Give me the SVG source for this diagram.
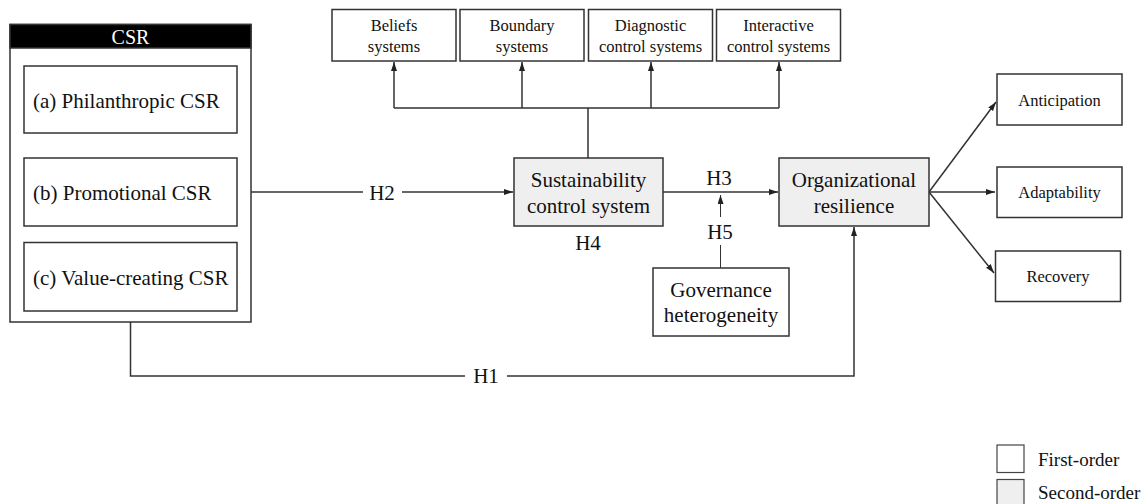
<svg xmlns="http://www.w3.org/2000/svg" width="1143" height="504" viewBox="0 0 1143 504">
<style>
.box{fill:#fff;stroke:#333;stroke-width:1.5}
.g{fill:#efefef;stroke:#333;stroke-width:1.5}
.t{font-family:"Liberation Serif","Times New Roman",serif;fill:#111}
.c{text-anchor:middle}
.l{fill:none;stroke:#333;stroke-width:1.5}
.a{fill:none;stroke:#333;stroke-width:1.5;marker-end:url(#ah)}
.f21{font-size:21px}
.f16{font-size:16.5px}
.f19{font-size:19px}
</style>
<defs>
<marker id="ah" markerUnits="userSpaceOnUse" markerWidth="10" markerHeight="8" refX="9" refY="3" orient="auto">
<path d="M0,0 L9,3 L0,6 z" fill="#222"/>
</marker>
</defs>
<rect width="1143" height="504" fill="#fff"/>

<g id="connectors">
<!-- H2 -->
<path class="l" d="M251,192 H363"/>
<path class="a" d="M402,192 H513"/>
<text class="t c f21" x="382" y="199.5">H2</text>
<!-- tree to top boxes -->
<path class="l" d="M588,158 V108 M394,108 H779"/>
<path class="a" d="M394,108 V62"/>
<path class="a" d="M522,108 V62"/>
<path class="a" d="M651,108 V62"/>
<path class="a" d="M779,108 V62"/>
<!-- H3 -->
<path class="a" d="M663,192 H778"/>
<text class="t c f21" x="719" y="185">H3</text>
<!-- H5 -->
<path class="a" d="M720.5,217 V195" style="stroke-width:1"/>
<path class="l" d="M720.5,245 V268" style="stroke-width:1"/>
<text class="t c f21" x="720" y="239">H5</text>
<!-- H4 -->
<text class="t c f21" x="588" y="250">H4</text>
<!-- H1 -->
<path class="l" d="M130.5,322 V376 H465"/>
<path class="a" d="M507,376 H854 V227"/>
<text class="t c f21" x="486" y="383">H1</text>
<!-- resilience dimensions -->
<path class="a" d="M929,192 L996,102"/>
<path class="a" d="M929,192 H995"/>
<path class="a" d="M929,192 L994,273"/>
</g>

<g id="csr">
<rect class="box" x="10" y="24.5" width="241" height="297.5"/>
<rect x="10" y="24.5" width="241" height="23.5" fill="#000" stroke="#333" stroke-width="1.5"/>
<text class="t c" x="130.5" y="43.5" style="fill:#fff;font-size:20px">CSR</text>
</g>
<g id="philanthropic">
<rect class="box" x="24" y="66" width="213" height="67"/>
<text class="t f21" x="33" y="107.5">(a) Philanthropic CSR</text>
</g>
<g id="promotional">
<rect class="box" x="24" y="158" width="213" height="68"/>
<text class="t f21" x="33" y="199.5">(b) Promotional CSR</text>
</g>
<g id="valuecreating">
<rect class="box" x="24" y="242.5" width="213" height="68.5"/>
<text class="t f21" x="33" y="284.5">(c) Value-creating CSR</text>
</g>

<g id="beliefs">
<rect class="box" x="332" y="9.5" width="124" height="51.5"/>
<text class="t c f16" x="394" y="31">Beliefs</text>
<text class="t c f16" x="394" y="51.5">systems</text>
</g>
<g id="boundary">
<rect class="box" x="460" y="9.5" width="124" height="51.5"/>
<text class="t c f16" x="522" y="31">Boundary</text>
<text class="t c f16" x="522" y="51.5">systems</text>
</g>
<g id="diagnostic">
<rect class="box" x="588.5" y="9.5" width="124" height="51.5"/>
<text class="t c f16" x="650.5" y="31">Diagnostic</text>
<text class="t c f16" x="650.5" y="51.5">control systems</text>
</g>
<g id="interactive">
<rect class="box" x="716.5" y="9.5" width="124" height="51.5"/>
<text class="t c f16" x="778.5" y="31">Interactive</text>
<text class="t c f16" x="778.5" y="51.5">control systems</text>
</g>

<g id="scs">
<rect class="g" x="514" y="158" width="149" height="68"/>
<text class="t c f21" x="588.5" y="187">Sustainability</text>
<text class="t c f21" x="588.5" y="213">control system</text>
</g>
<g id="resilience">
<rect class="g" x="779" y="158" width="150" height="68"/>
<text class="t c f21" x="854" y="187">Organizational</text>
<text class="t c f21" x="854" y="213">resilience</text>
</g>
<g id="governance">
<rect class="box" x="653" y="268" width="136" height="68"/>
<text class="t c f21" x="721" y="297">Governance</text>
<text class="t c f21" x="721" y="322">heterogeneity</text>
</g>

<g id="anticipation">
<rect class="box" x="997" y="74" width="125" height="51"/>
<text class="t c f16" x="1059.5" y="105.5">Anticipation</text>
</g>
<g id="adaptability">
<rect class="box" x="997" y="167" width="125" height="50.5"/>
<text class="t c f16" x="1059.5" y="198">Adaptability</text>
</g>
<g id="recovery">
<rect class="box" x="995.5" y="251" width="125" height="50.5"/>
<text class="t c f16" x="1058" y="282">Recovery</text>
</g>

<g id="legend">
<rect x="997" y="445" width="27" height="27.5" fill="#fff" stroke="#444" stroke-width="1.2"/>
<rect x="997" y="479.5" width="27" height="27.5" fill="#efefef" stroke="#444" stroke-width="1.2"/>
<text class="t f19" x="1038" y="465.5">First-order</text>
<text class="t f19" x="1038" y="499">Second-order</text>
</g>
</svg>
